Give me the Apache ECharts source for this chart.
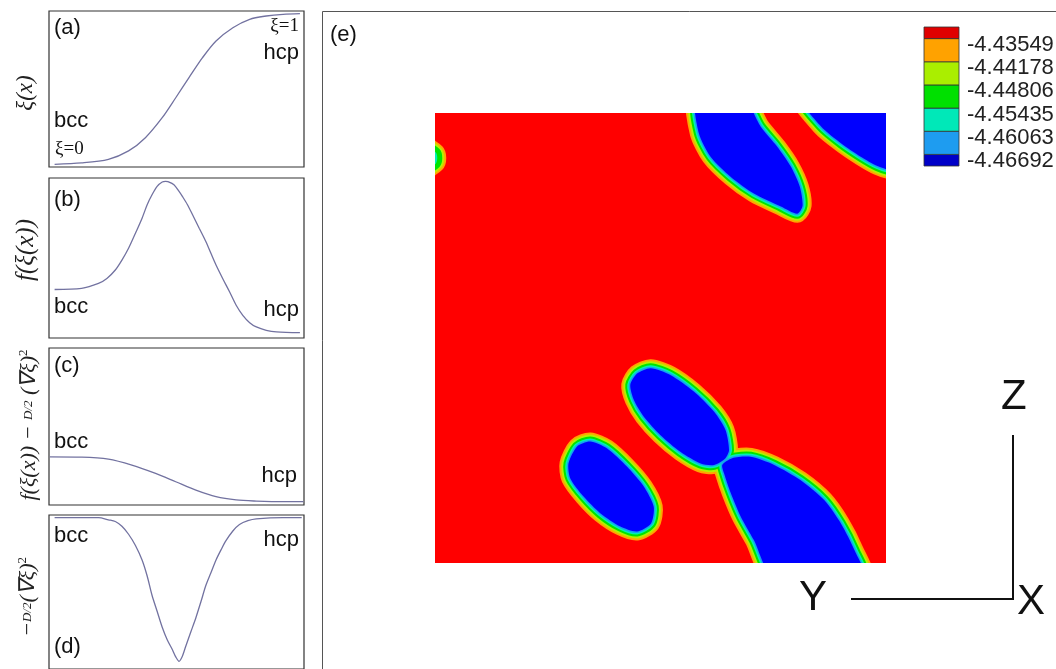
<!DOCTYPE html>
<html>
<head>
<meta charset="utf-8">
<script src="https://cdn.jsdelivr.net/npm/echarts@6/dist/echarts.min.js"></script>
<style>
  html, body { margin: 0; background: #fff; }
  #chart { width: 1056px; height: 669px; }
</style>
</head>
<body>
<div id="chart"></div>
<script>
// (a) xi(x), positions are fractions of the panel box
const aX = [0.022, 0.128, 0.233, 0.312, 0.378, 0.444, 0.497, 0.549, 0.602, 0.655, 0.721, 0.787, 0.852, 0.918, 0.984]
const aY = [0.017, 0.026, 0.049, 0.103, 0.188, 0.316, 0.444, 0.573, 0.701, 0.808, 0.893, 0.947, 0.968, 0.979, 0.983]

// (b) f(xi(x))
const bX = [0.022, 0.128, 0.194, 0.227, 0.260, 0.286, 0.312, 0.339, 0.365, 0.385, 0.404, 0.424, 0.444, 0.457, 0.466, 0.490, 0.510, 0.523, 0.543, 0.563, 0.589, 0.615, 0.635, 0.655, 0.681, 0.708, 0.734, 0.760, 0.787, 0.813, 0.852, 0.892, 0.984]
const bY = [0.303, 0.310, 0.341, 0.372, 0.425, 0.487, 0.561, 0.655, 0.749, 0.833, 0.895, 0.948, 0.975, 0.979, 0.977, 0.958, 0.916, 0.885, 0.833, 0.770, 0.686, 0.603, 0.529, 0.456, 0.372, 0.289, 0.205, 0.142, 0.096, 0.069, 0.048, 0.038, 0.033]

// (c) f - D/2 (grad xi)^2
const cX = [0.003, 0.128, 0.233, 0.325, 0.418, 0.497, 0.576, 0.655, 0.734, 0.813, 0.918, 0.998]
const cY = [0.307, 0.305, 0.292, 0.254, 0.201, 0.148, 0.095, 0.053, 0.032, 0.025, 0.021, 0.021]

// (d) -D/2 (grad xi)^2
const dX = [0.022, 0.194, 0.233, 0.260, 0.286, 0.312, 0.339, 0.365, 0.385, 0.404, 0.424, 0.444, 0.464, 0.484, 0.497, 0.510, 0.523, 0.536, 0.556, 0.576, 0.596, 0.615, 0.635, 0.655, 0.675, 0.694, 0.721, 0.747, 0.780, 0.813, 0.918, 0.991]
const dY = [0.983, 0.983, 0.969, 0.958, 0.927, 0.875, 0.802, 0.708, 0.604, 0.479, 0.375, 0.271, 0.188, 0.125, 0.079, 0.050, 0.083, 0.146, 0.240, 0.333, 0.438, 0.542, 0.625, 0.708, 0.775, 0.833, 0.896, 0.938, 0.963, 0.975, 0.983, 0.983]

// (e) hcp regions: core outlines in map units (0..100, y from top)
const blobTop = [[58, -3], [58.5, 4.5], [61.1, 9.7], [65.6, 14.2], [70.7, 17.9], [76.7, 20.8], [80.3, 22.4], [81.5, 20.6], [80.9, 16.4], [78.9, 11.9], [75.9, 7.5], [72.2, 3.0], [68.5, -3]]
const blobCorner = [[81.5, -3], [85.6, 3.0], [90, 6.7], [94.4, 9.7], [98.1, 11.8], [101, 12.7], [105, 12.7], [105, -3]]
const blobEdge = [[-2, 7.5], [0.2, 8.8], [0.5, 10], [0.2, 11.2], [-2, 12.5]]
const blobSmall = [[29.6, 77.9], [31.5, 74.1], [34.4, 73.0], [38.1, 74.5], [42.6, 78.6], [46.3, 83.0], [48.5, 87.5], [47.9, 91.2], [44.8, 93.0], [41.1, 91.9], [36.7, 89.0], [33.0, 85.3], [30.0, 81.2]]
const blobMid = [[43.3, 60.4], [44.8, 57.9], [47.8, 56.7], [52.2, 58.2], [57.4, 61.9], [61.9, 66.4], [64.4, 70.4], [65.2, 74.9], [64.4, 76.7], [61.9, 78.2], [58.9, 77.9], [54.4, 75.3], [50.0, 71.6], [46.3, 67.5], [44.1, 63.8]]
const blobLow = [[63.7, 78.2], [65.9, 76.7], [70, 76.4], [75.2, 78.2], [81.1, 81.6], [86.3, 86], [90, 91.2], [93, 97.1], [95, 103], [75, 103], [70.7, 94.9], [67.8, 89.7], [65.6, 84.5], [64.1, 80.1]]
const blobs = [blobTop, blobCorner, blobEdge, blobSmall, blobMid, blobLow]
const blobDepth = [5, 5, 3, 5, 5, 5]

// contour legend (bottom to top)
const levelLabels = ['-4.46692', '-4.46063', '-4.45435', '-4.44806', '-4.44178', '-4.43549']
const legendBounds = [0, 0.5, 1.5, 2.5, 3.5, 4.5, 5.5, 6]
const legendColors = ['#0000c8', '#1e9cf0', '#00e8b8', '#00e000', '#aaee00', '#ffa200', '#e00000']

// map band colours, outer to inner, last is the core
const bandColors = ['#ffa500', '#b4f000', '#00e400', '#00f0b4', '#14a0f0', '#0000ff']
const bandWidths = [18, 14, 10, 6, 3]

const lineColor = '#7272a0'
const sans = 'Liberation Sans'
const serif = 'Liberation Serif'

const panels = [
  { top: 11, height: 156, x: aX, y: aY },
  { top: 178, height: 160, x: bX, y: bY },
  { top: 348, height: 157, x: cX, y: cY },
  { top: 515, height: 160, x: dX, y: dY }
]

const grids = panels.map(p => ({
  left: 49, top: p.top, width: 255, height: p.height,
  show: true, borderColor: '#333', borderWidth: 1.2, backgroundColor: 'transparent'
}))
grids.push({ left: 435, top: 113, width: 451, height: 450, show: true, backgroundColor: '#ff0000', borderWidth: 0 })
grids.push({ left: 924, top: 27, width: 35, height: 139 })

const xAxes = panels.map((p, i) => ({ gridIndex: i, type: 'value', min: 0, max: 1, show: false }))
const yAxes = panels.map((p, i) => ({ gridIndex: i, type: 'value', min: 0, max: 1, show: false }))
xAxes.push({ gridIndex: 4, type: 'value', min: 0, max: 100, show: false })
yAxes.push({ gridIndex: 4, type: 'value', min: 0, max: 100, inverse: true, show: false })
xAxes.push({ gridIndex: 5, type: 'value', min: 0, max: 1, show: false })
yAxes.push({ gridIndex: 5, type: 'value', min: 0, max: 6, show: false })

const series = panels.map((p, i) => ({
  type: 'line', xAxisIndex: i, yAxisIndex: i,
  data: p.x.map((x, k) => [x, p.y[k]]),
  smooth: 0.3, symbol: 'none', silent: true,
  lineStyle: { color: lineColor, width: 1.3 }
}))

// contour bands: wide strokes first, core fill last
bandWidths.forEach((w, level) => {
  series.push({
    type: 'custom', xAxisIndex: 4, yAxisIndex: 4, clip: true, silent: true,
    data: blobs.map((b, i) => [i, 0]).filter(d => blobDepth[d[0]] > level),
    renderItem: (params, api) => ({
      type: 'polygon',
      shape: { points: blobs[api.value(0)].map(pt => api.coord(pt)), smooth: 0.25 },
      style: { fill: 'none', stroke: bandColors[level], lineWidth: w, lineJoin: 'round' }
    })
  })
})
series.push({
  type: 'custom', xAxisIndex: 4, yAxisIndex: 4, clip: true, silent: true,
  data: blobs.map((b, i) => [i, 0]),
  renderItem: (params, api) => {
    const i = api.value(0)
    return {
      type: 'polygon',
      shape: { points: blobs[i].map(pt => api.coord(pt)), smooth: 0.25 },
      style: { fill: bandColors[blobDepth[i]], stroke: 'none' }
    }
  }
})

// legend boxes
series.push({
  type: 'custom', xAxisIndex: 5, yAxisIndex: 5, silent: true, clip: false,
  data: legendColors.map((c, i) => [i, 0]),
  renderItem: (params, api) => {
    const i = api.value(0)
    const p0 = api.coord([0, legendBounds[i + 1]])
    const p1 = api.coord([1, legendBounds[i]])
    return {
      type: 'rect',
      shape: { x: p0[0], y: p0[1], width: p1[0] - p0[0], height: p1[1] - p0[1] },
      style: { fill: legendColors[i], stroke: '#333', lineWidth: 0.8 }
    }
  }
})
// legend labels
series.push({
  type: 'custom', xAxisIndex: 5, yAxisIndex: 5, silent: true, clip: false,
  data: levelLabels.map((t, i) => [1, i + 0.22]),
  renderItem: (params, api) => {
    const p = api.coord([api.value(0), api.value(1)])
    return {
      type: 'text', x: p[0] + 8, y: p[1],
      style: { text: levelLabels[params.dataIndex], fill: '#222', fontSize: 22, fontFamily: sans, verticalAlign: 'middle', align: 'left' }
    }
  }
})

function txt(text, x, y, size, opts) {
  return {
    type: 'text', x: x, y: y, silent: true,
    style: Object.assign({ text: text, fill: '#111', fontSize: size, fontFamily: sans, verticalAlign: 'middle', align: 'left' }, opts || {})
  }
}
function vlabel(text, x, y, size, rich) {
  return {
    type: 'text', x: x, y: y, rotation: Math.PI / 2, silent: true,
    style: { text: text, fill: '#222', fontSize: size, fontFamily: serif, fontStyle: 'italic', align: 'center', verticalAlign: 'middle', rich: rich }
  }
}
const richFrac = {
  t: { fontSize: 22, fontFamily: serif, fontStyle: 'italic', fill: '#222' },
  f: { fontSize: 13, fontFamily: serif, fontStyle: 'italic', fill: '#222' },
  s: { fontSize: 13, fontFamily: serif, fill: '#222', padding: [0, 0, 11, 0] }
}

const graphic = [
  { type: 'rect', silent: true, shape: { x: 322.5, y: 11.5, width: 1000, height: 1000 }, style: { fill: 'none', stroke: '#555', lineWidth: 1 } },
  txt('(a)', 54, 28, 22), txt('hcp', 299, 53, 22, { align: 'right' }), txt('bcc', 54, 121, 22),
  txt('ξ=1', 299, 26, 19, { align: 'right', fontFamily: serif }), txt('ξ=0', 55, 149, 19, { fontFamily: serif }),
  txt('(b)', 54, 200, 22), txt('bcc', 54, 307, 22), txt('hcp', 299, 310, 22, { align: 'right' }),
  txt('(c)', 54, 366, 22), txt('bcc', 54, 442, 22), txt('hcp', 297, 476, 22, { align: 'right' }),
  txt('bcc', 54, 536, 22), txt('hcp', 299, 540, 22, { align: 'right' }), txt('(d)', 54, 647, 22),
  txt('(e)', 330, 35, 22),
  vlabel('ξ(x)', 26, 93, 23),
  vlabel('f(ξ(x))', 26, 250, 25),
  vlabel('{t|f(ξ(x)) − }{f|D/2}{t| (∇ξ)}{s|2}', 29, 425, 22, richFrac),
  vlabel('{t|−}{f|D/2}{t|(∇ξ)}{s|2}', 28, 597, 22, richFrac),
  { type: 'line', silent: true, shape: { x1: 1013, y1: 435, x2: 1013, y2: 600 }, style: { stroke: '#111', lineWidth: 2 } },
  { type: 'line', silent: true, shape: { x1: 851, y1: 599, x2: 1014, y2: 599 }, style: { stroke: '#111', lineWidth: 2 } },
  txt('Z', 1001, 397, 42), txt('Y', 799, 598, 42), txt('X', 1017, 602, 42)
]

const chart = echarts.init(document.getElementById('chart'))
chart.setOption({
  backgroundColor: '#fff',
  animation: false,
  grid: grids,
  xAxis: xAxes,
  yAxis: yAxes,
  series: series,
  graphic: graphic
})
</script>
</body>
</html>
